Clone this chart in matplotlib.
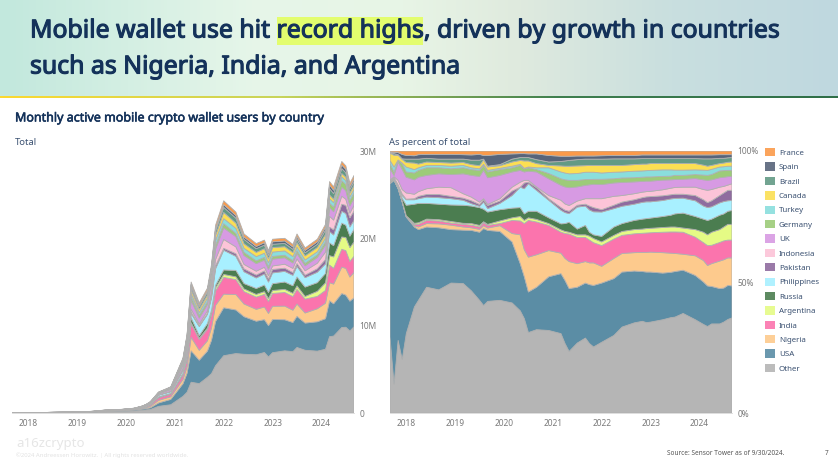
import numpy as np
import matplotlib
matplotlib.use('Agg')
import matplotlib.pyplot as plt
import matplotlib.patheffects as pe
from matplotlib.colors import LinearSegmentedColormap
from matplotlib.patches import Patch, Rectangle

plt.rcParams['font.family'] = ['Noto Sans', 'DejaVu Sans']

# months since Sep 2017
months = [0,1,2,3,4,6,7,9,12,15,18,20,22,23,24,27,30,32,33,34,36,39,42,43,44,46,48,49,50,52,55,57,60,62,63,64,67,69,70,72,75,77,78,79,81,82,83,84]

# total users in millions
total = [.02,.02,.03,.03,.04,.05,.05,.07,.09,.12,.16,.2,.3,.33,.36,.42,.55,.8,1.0,1.3,2.4,3.0,6.3,9,15,12.6,14.3,17,21.5,24.3,23,20.5,19.4,19.8,18.6,19.9,20,19.3,20.5,18.9,19.9,21.6,26.5,25.9,28.8,28.3,26.3,27.2]

# upper edge of each layer, percent of total
top_other = [29,11,27.7,20.4,30.3,40.5,43,48,47,49.6,49.4,46.6,43,41,42.6,43,42,39,36,30.7,31.8,31.5,30.3,26.5,23.5,26.7,28.6,26.5,25.2,27,29.6,32.8,34.4,35,34.5,34.7,35.6,36.4,36.6,38,35.6,33.8,33,34,34,34.7,35.7,36.3]
top_usa = [87.5,88.8,85.6,80.5,74.8,71,70,71,70.7,70,69.8,69.7,69,70.4,69.7,69.3,65.3,57,52,46.2,48,52,53.2,50.6,47.5,48,49.6,49,48.7,49.6,51.3,53.8,54.2,54,53.8,53.8,53.4,53.7,54,54.5,52.5,50,48.5,48.3,47.5,47.7,48.7,48.5]
top_nigeria = [87.6,89,85.7,80.6,74.9,71.5,71,72.3,72.2,71.7,71,70.7,70.1,71.5,70.6,71.5,68.5,68,62.3,59.5,60.4,62,61,59,57.8,57,57.8,57.3,57.3,56,59,60.9,61.2,61.3,61.3,61.4,61.2,61,60.9,60.6,60,58.2,56.3,57,58,58.5,59.2,59.2]
top_india = [87.7,89.1,85.8,80.8,75,72,72,73.5,73.3,72.5,72,71.7,71,72.6,71.6,72.3,73.5,73.3,72.3,73.5,72.9,71.6,69,68.5,68.3,67,67,66,65,63.9,66.4,67.8,68.4,68.6,68.7,68.8,69,69.1,69.1,69,67.1,65,63.9,64,65.1,65.7,66,66]
top_argentina = [88,89.3,85.9,81,75.3,72.4,72.6,74,73.8,73.1,72.4,72.3,71.6,73,72,73.3,74.5,75,73.5,74.5,73.9,72.3,69.9,69.3,69,68,68,67.5,66.6,65.3,67.8,69.3,70,70.2,70.4,70.5,70.8,71,71,70.6,70,69,68,69,70,71,72,72]
top_russia = [88.3,89.7,86,82,79.3,79.7,80,80,79.7,79.4,79.3,79,78.4,77.8,76.7,77.6,78.2,78.4,76,77,77,74.5,72.2,72.3,72.8,70.2,71.6,69,68,67.4,71,72.3,73.5,74,74.2,74.4,75,75.5,76,76.3,75,74,73.5,74,75.5,76,77,77.3]
top_philippines = [88.6,89.9,86.9,83,81.4,81.4,81.8,82.4,82.2,81.8,81.2,79.9,78.9,80.5,78,80,83,86.2,85.6,87.5,85,81.2,77.4,76.5,76.1,78.6,79,77.5,76.8,76.7,78,78.9,79.7,80.4,80.6,80.6,81.1,81.7,81.9,82,81,79,78.4,78.7,80.2,80.7,81,81.1]
top_pakistan = [88.6,89.9,87.1,83.6,81.6,81.8,82.7,83.4,83.4,82.7,82,81,79.6,81.4,79.2,80.9,84.7,86.2,87.8,88.1,86,81.8,78.4,77.4,77,79.3,79.7,79,78.4,77.6,79.3,80.5,81.4,82.2,82.5,82.6,82.9,83.3,83.5,83.5,83,81.4,80.3,81,83,84,85,85]
top_indonesia = [88.9,90.2,88.8,85.3,84,83.5,84.5,85.6,86.2,86,83.7,82.4,80.5,81.8,79.6,81.8,86.2,88.1,88.8,88.8,86.3,83,81.2,79.8,79.2,80.9,81.8,81.8,81.8,81.8,82.7,83,83.7,84.3,84.5,84.6,85.2,85.8,86.1,86.2,86.2,85.3,85,85.3,86.2,86.5,87,87.5]
top_uk = [93.3,90.7,95.8,93,90,89,90,90.7,91.3,91,91.3,90.7,90.3,92.6,89.8,90.7,92,92.6,92,92.3,92,89.4,86.9,86.3,86,86.3,86.9,87.1,87.3,87.2,87.8,88,88.2,88.4,88.5,88.5,88.9,89,89.1,89.2,89.5,89,88.8,89,89.8,90,90.2,90.3]
top_germany = [95.2,91.9,96.4,95.2,92,91.6,92.6,93.6,93.6,93.2,93.6,92.9,92.6,94.5,92,92.9,93.6,94.5,93.2,93.6,92.9,91.4,89.4,89,88.8,88.8,89.1,89.1,89.2,89.2,89.4,89.7,89.8,90,90.1,90.1,90.3,90.4,90.7,90.7,91,90.8,90.7,91,92.4,92.5,92.6,92.6]
top_turkey = [96.4,93.9,96.6,95.4,93.9,92.9,93.6,94.5,94.5,94.2,94.5,93.6,93.2,95,92.6,93.4,94.2,94.9,93.4,93.9,93.6,93.6,92,91.6,91.3,91.4,91.9,91.9,91.9,91.6,91.9,92,92.3,92.4,92.5,92.6,92.8,92.8,92.7,92.7,92.8,92.7,92.6,93,93.9,94,94.2,94.2]
top_canada = [99.2,98.4,98.4,96.8,95.6,95.4,95,95.8,95.6,95.4,95.6,94.8,94.4,96.6,93.9,94.4,95.8,96.4,96.2,96.2,95.2,94.5,94.3,94.2,94.2,94.3,94.4,94.5,94.5,94.5,94.5,94.5,94.8,95,95,95.2,95.2,95.2,95.2,95.2,95.2,94.6,94.2,94.5,95.2,95.4,95.7,95.8]
top_brazil = [99.4,99,98.6,97,96.9,96.9,96.9,97.2,96.9,96.9,96.9,96.5,96.5,96.9,94.2,94.8,96.9,97.5,97.5,97.5,96.7,95.8,96,96.2,96.4,96.7,96.9,96.9,96.9,96.9,97,97,97,97.1,97.1,97.1,97.1,97.1,97.1,97.1,97.1,97,97,97,97.2,97.2,97.4,97.5]
top_spain = [99.6,99.5,99.4,98.7,98.3,98.2,98.6,98.7,98.7,98.7,98.6,98.5,98.7,98.3,98.3,98.7,98.9,99,99,98.9,98.9,98.3,98,98,98,98.1,98.1,98.1,98.1,98.2,98.3,98.3,98.3,98.5,98.5,98.5,98.5,98.5,98.5,98.5,98.5,98.5,98.5,98.5,98.6,98.6,98.6,98.6]
top_france = [100] * len(months)

countries = ['Other', 'USA', 'Nigeria', 'India', 'Argentina', 'Russia', 'Philippines', 'Pakistan',
             'Indonesia', 'UK', 'Germany', 'Turkey', 'Canada', 'Brazil', 'Spain', 'France']
farben = ['#b5b5b5', '#5b8da5', '#fdca8d', '#fb74ad', '#e5fb85', '#4b7d50', '#a8f0ff', '#8f6c9f',
          '#fcc4d8', '#d79ae3', '#9dcb79', '#8adedd', '#fbdf53', '#639a85', '#57647a', '#fb9a4a']
kanten = ['#b0b0b0', '#3f7389', '#f5c080', '#f2609c', '#cfe860', '#356a3c', '#8fdff0', '#6f4c80',
          '#f5b5cc', '#c585d2', '#7fb55f', '#6fcaca', '#eec930', '#3f7a65', '#3d4a60', '#f07f25']

year_ticks = [4, 16, 28, 40, 52, 64, 76]
year_labels = ['2018', '2019', '2020', '2021', '2022', '2023', '2024']

W, H = 838, 465
NAVY = '#14325a'
GRAU = '#7a7a7a'


def px_box(x0, y0, x1, y1):
    """Pixel-Box (von oben gemessen) -> Figurkoordinaten."""
    return [x0 / W, 1 - y1 / H, (x1 - x0) / W, (y1 - y0) / H]


def fett(breite):
    # Noto Sans ist hier nur regular installiert, Fettdruck per Kontur
    return [pe.withStroke(linewidth=breite, foreground=NAVY)]


def zeichne_flaechen(ax, x, schichten):
    ax.stackplot(x, schichten, colors=farben, edgecolor=kanten, linewidth=0.6)
    ax.set_xlim(0, 84)
    ax.set_xticks(year_ticks)
    ax.set_xticklabels(year_labels)
    ax.yaxis.tick_right()
    ax.tick_params(length=0, labelsize=6, labelcolor=GRAU, pad=4)
    for name in ['top', 'left', 'right']:
        ax.spines[name].set_visible(False)
    ax.spines['bottom'].set_color('#d8d8d8')
    ax.spines['bottom'].set_linewidth(0.6)


tops = np.array([top_other, top_usa, top_nigeria, top_india, top_argentina, top_russia, top_philippines,
                 top_pakistan, top_indonesia, top_uk, top_germany, top_turkey, top_canada, top_brazil,
                 top_spain, top_france], dtype=float)
tops = np.maximum.accumulate(tops, axis=0)
anteile = np.diff(tops, axis=0, prepend=0)
absolut = anteile / 100 * np.array(total)

fig = plt.figure(figsize=(W / 100, H / 100), dpi=100)

# Kopfbereich mit Verlauf
kopf_cmap = LinearSegmentedColormap.from_list('kopf', [(0, '#c2e8dd'), (0.3, '#e6f6e9'), (0.48, '#e8f5e6'),
                                                       (0.62, '#dfeade'), (0.8, '#c9dfdf'), (1, '#bfd8e0')])
ax_kopf = fig.add_axes(px_box(0, 0, W, 96))
ax_kopf.imshow(np.linspace(0, 1, 256)[None, :], cmap=kopf_cmap, aspect='auto', extent=(0, W, 96, 0))
ax_kopf.add_patch(Rectangle((277, 17), 146, 28, color='#e3fd6e', lw=0))
ax_kopf.set_xlim(0, W)
ax_kopf.set_ylim(96, 0)
ax_kopf.axis('off')
ax_kopf.text(30, 31, 'Mobile wallet use hit record highs, driven by growth in countries',
             fontsize=17.87, color=NAVY, va='center', ha='left', path_effects=fett(0.8))
ax_kopf.text(30, 67, 'such as Nigeria, India, and Argentina',
             fontsize=17.87, color=NAVY, va='center', ha='left', path_effects=fett(0.8))

linie_cmap = LinearSegmentedColormap.from_list('linie', ['#fbd930', '#c8d45a', '#3f7f4f', '#2f6f48'])
ax_linie = fig.add_axes(px_box(0, 96, W, 98))
ax_linie.imshow(np.linspace(0, 1, 256)[None, :], cmap=linie_cmap, aspect='auto')
ax_linie.axis('off')

fig.text(15 / W, 1 - 118 / H, 'Monthly active mobile crypto wallet users by country',
         fontsize=9, color=NAVY, va='center', path_effects=fett(0.4))
fig.text(15 / W, 1 - 142 / H, 'Total', fontsize=6.8, color='#3c5272', va='center')
fig.text(389 / W, 1 - 142 / H, 'As percent of total', fontsize=6.8, color='#3c5272', va='center')

# Links: absolut
ax_links = fig.add_axes(px_box(12, 151, 354, 413))
zeichne_flaechen(ax_links, months, absolut)
ax_links.set_ylim(0, 30)
ax_links.set_yticks([0, 10, 20, 30])
ax_links.set_yticklabels(['0', '10M', '20M', '30M'])

# Rechts: Anteil
ax_rechts = fig.add_axes(px_box(390, 151, 732, 413))
zeichne_flaechen(ax_rechts, months, anteile)
ax_rechts.set_ylim(0, 100)
ax_rechts.set_yticks([0, 50, 100])
ax_rechts.set_yticklabels(['0%', '50%', '100%'])

# Legende
griffe = [Patch(facecolor=f, edgecolor='none', alpha=0.9, label=c) for c, f in zip(countries, farben)][::-1]
fig.legend(handles=griffe, loc='upper left', bbox_to_anchor=(765 / W, 1 - 148 / H), frameon=False,
           fontsize=5.7, labelcolor='#3c5272', handlelength=1.25, handleheight=1.25, handletextpad=0.5,
           labelspacing=0.7, borderpad=0, borderaxespad=0)

# Fusszeile
fig.text(16 / W, 1 - 443 / H, 'a16zcrypto', fontsize=9.5, color='#e6e6e6', va='center')
fig.text(16 / W, 1 - 455 / H, '©2024 Andreessen Horowitz. | All rights reserved worldwide.',
         fontsize=4.3, color='#e2e2e2', va='center')
fig.text(667 / W, 1 - 453 / H, 'Source: Sensor Tower as of 9/30/2024.', fontsize=4.7, color='#555555', va='center')
fig.text(825 / W, 1 - 453 / H, '7', fontsize=4.7, color='#555555', va='center')

fig.savefig('out.png', dpi=100)
